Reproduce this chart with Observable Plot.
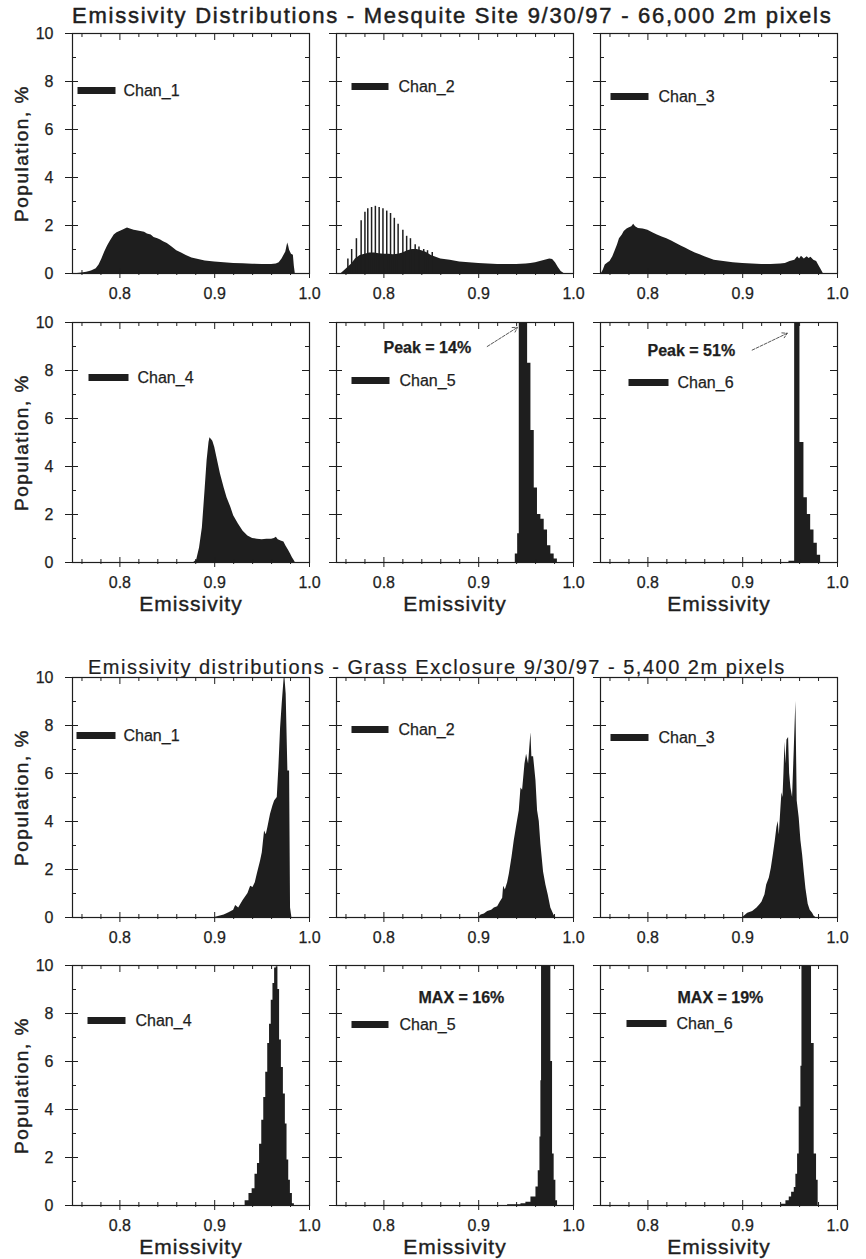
<!DOCTYPE html>
<html>
<head>
<meta charset="utf-8">
<script src="https://cdn.jsdelivr.net/npm/d3@7"></script>
<script src="https://cdn.jsdelivr.net/npm/@observablehq/plot@0.6"></script>
<style>
html, body { margin: 0; padding: 0; background: #fff; overflow: hidden; }
#page { position: relative; width: 866px; height: 1259px; font-family: "Liberation Sans", Arial, Helvetica, sans-serif; color: #1e1e1e; }
.title { position: absolute; white-space: nowrap; line-height: 1; color: #1e1e1e; }
.panel { position: absolute; }
.panel text { stroke: #1e1e1e; stroke-width: 0.25px; }
</style>
</head>
<body>
<div id="page"></div>
<script>
// ---------- tick values & labels ----------
const xMajor = [0.8, 0.9, 1.0];
const xMinor = [0.76, 0.78, 0.82, 0.84, 0.86, 0.88, 0.92, 0.94, 0.96, 0.98];
const yMajor = [0, 2, 4, 6, 8, 10];
const yMinor = [1, 3, 5, 7, 9];
const titles = [
  "Emissivity Distributions - Mesquite Site 9/30/97 - 66,000 2m pixels",
  "Emissivity distributions - Grass Exclosure 9/30/97 - 5,400 2m pixels"
];
const channels = ["Chan_1", "Chan_2", "Chan_3", "Chan_4", "Chan_5", "Chan_6"];
const xLabel = "Emissivity";
const yLabel = "Population, %";
const peakNotes = ["Peak = 14%", "Peak = 51%"];
const maxNotes = ["MAX = 16%", "MAX = 19%"];

// ---------- Mesquite site ----------
const mes1X = [0.755,0.76,0.765,0.77,0.775,0.778,0.781,0.784,0.787,0.79,0.794,0.797,0.80,0.804,0.808,0.811,0.815,0.818,0.822,0.826,0.829,0.833,0.836,0.84,0.843,0.846,0.85,0.855,0.86,0.865,0.87,0.876,0.883,0.89,0.90,0.91,0.92,0.93,0.94,0.95,0.96,0.965,0.968,0.971,0.973,0.975,0.977,0.978,0.979,0.981,0.983,0.984,0.985];
const mes1Y = [0,0.02,0.05,0.1,0.2,0.35,0.6,0.9,1.15,1.35,1.6,1.7,1.75,1.82,1.9,1.85,1.8,1.78,1.75,1.72,1.65,1.6,1.5,1.45,1.4,1.32,1.25,1.1,0.95,0.85,0.75,0.65,0.58,0.52,0.48,0.45,0.42,0.41,0.39,0.38,0.38,0.4,0.45,0.6,0.75,0.9,1.27,1.15,0.97,0.8,0.76,0.3,0];

const mes2X = [0.755,0.758,0.762,0.766,0.77,0.775,0.78,0.785,0.79,0.795,0.80,0.805,0.81,0.815,0.82,0.825,0.83,0.835,0.84,0.845,0.85,0.855,0.86,0.87,0.88,0.89,0.90,0.91,0.92,0.93,0.94,0.95,0.955,0.96,0.965,0.97,0.975,0.978,0.981,0.984,0.987,0.99];
const mes2Y = [0,0.1,0.25,0.4,0.6,0.75,0.8,0.85,0.85,0.82,0.8,0.8,0.78,0.8,0.85,0.95,1.0,1.0,0.95,0.88,0.75,0.68,0.6,0.55,0.48,0.45,0.42,0.4,0.38,0.37,0.38,0.4,0.42,0.45,0.5,0.55,0.6,0.58,0.45,0.25,0.08,0];
const mes2SpikeX = [0.762,0.766,0.771,0.776,0.780,0.783,0.787,0.791,0.795,0.799,0.803,0.807,0.811,0.815,0.820,0.824,0.828,0.833,0.837,0.842,0.846,0.851];
const mes2SpikeY = [0.6,1.0,1.45,2.2,2.55,2.7,2.75,2.8,2.75,2.7,2.6,2.5,2.3,2.05,1.8,1.55,1.45,1.2,1.1,1.0,0.95,0.88];

const mes3X = [0.751,0.753,0.755,0.758,0.76,0.763,0.765,0.768,0.77,0.773,0.775,0.778,0.78,0.783,0.785,0.787,0.79,0.795,0.80,0.805,0.81,0.815,0.82,0.825,0.83,0.835,0.84,0.845,0.85,0.855,0.86,0.865,0.87,0.88,0.89,0.90,0.91,0.92,0.93,0.94,0.945,0.95,0.955,0.958,0.96,0.962,0.965,0.968,0.97,0.972,0.975,0.978,0.98,0.983,0.985];
const mes3Y = [0,0.15,0.35,0.45,0.5,0.7,0.9,1.2,1.45,1.6,1.75,1.85,1.9,1.95,2.05,1.95,1.88,1.85,1.8,1.7,1.6,1.52,1.45,1.35,1.25,1.15,1.05,0.95,0.85,0.78,0.7,0.62,0.55,0.5,0.45,0.42,0.4,0.38,0.38,0.4,0.42,0.5,0.55,0.7,0.6,0.72,0.6,0.7,0.62,0.68,0.55,0.5,0.35,0.15,0];

const mes4X = [0.878,0.881,0.884,0.887,0.89,0.892,0.894,0.895,0.897,0.898,0.90,0.903,0.906,0.91,0.913,0.917,0.92,0.925,0.93,0.935,0.94,0.945,0.95,0.955,0.96,0.963,0.965,0.967,0.97,0.973,0.975,0.978,0.98,0.982,0.984,0.985];
const mes4Y = [0,0.1,0.6,1.45,3.1,4.25,5.0,5.2,5.1,5.05,4.8,4.25,3.7,3.1,2.7,2.3,1.95,1.6,1.3,1.1,1.0,0.97,0.95,0.97,0.97,1.0,1.05,0.95,0.9,0.85,0.7,0.5,0.35,0.2,0.07,0];

// histogram bin edges (n+1) and heights (n)
const mes5Edges = [0.9386,0.9411,0.9428,0.9516,0.9551,0.9586,0.962,0.9656,0.9691,0.9726,0.9761,0.9796,0.983];
const mes5Vals = [0.35,1.2,14,8.3,5.5,3.1,2.0,1.8,1.35,0.7,0.35,0.15];

const mes6Edges = [0.9488,0.9548,0.9604,0.9646,0.9682,0.9717,0.9752,0.9787,0.9822];
const mes6Vals = [0.05,51,5.0,2.7,2.0,1.35,0.8,0.3];

// ---------- Grass exclosure ----------
const gr1X = [0.90,0.905,0.91,0.9151,0.92,0.9221,0.9253,0.9298,0.9351,0.9379,0.9404,0.9428,0.9449,0.9484,0.9502,0.9526,0.9544,0.9561,0.9589,0.9614,0.9632,0.966,0.9677,0.9695,0.9712,0.9737,0.9754,0.9772,0.979,0.98,0.9814];
const gr1Y = [0,0.05,0.1,0.2,0.3,0.5,0.4,0.7,1.0,1.3,1.25,1.45,1.8,2.35,2.7,3.6,3.45,3.75,4.3,4.65,4.85,5.0,6.25,7.9,8.9,10.2,9.3,6.1,6.1,0.4,0];

const gr2X = [0.9,0.9025,0.906,0.9095,0.9137,0.9165,0.92,0.9228,0.9253,0.9263,0.9281,0.9305,0.9323,0.9351,0.9375,0.9404,0.9428,0.9446,0.9463,0.9488,0.9505,0.9526,0.9551,0.9561,0.9579,0.9604,0.9621,0.9639,0.9656,0.9684,0.9709,0.9733,0.9761,0.9796,0.9814];
const gr2Y = [0,0.1,0.15,0.25,0.3,0.4,0.45,0.65,0.8,1.3,1.15,1.45,1.8,2.5,3.2,3.9,4.45,5.4,5.3,6.4,6.8,6.4,7.7,6.7,6.7,5.7,4.45,4.0,3.05,1.9,1.35,0.95,0.4,0.08,0];

const gr3X = [0.9,0.9053,0.9105,0.9151,0.9186,0.9204,0.9235,0.9253,0.9281,0.9302,0.9323,0.9344,0.9361,0.9375,0.9386,0.9404,0.9414,0.9425,0.9435,0.9446,0.9456,0.9467,0.9484,0.9495,0.9509,0.9526,0.9544,0.9561,0.9575,0.9596,0.9614,0.9632,0.9649,0.9667,0.9691,0.9712,0.9737,0.9754,0.9772];
const gr3Y = [0,0.18,0.25,0.4,0.55,0.65,0.95,1.35,1.65,2.05,2.6,3.2,3.75,4.0,3.45,4.6,5.2,5.0,6.0,7.3,6.4,7.4,7.5,6.0,5.4,5.0,7.0,9.0,4.85,4.15,3.2,2.6,1.9,1.2,0.55,0.3,0.18,0.05,0];

const gr4X = [0.9298,0.9344,0.9379,0.9411,0.9439,0.9463,0.9484,0.9509,0.9526,0.9551,0.9568,0.9589,0.9604,0.9625,0.9639,0.966,0.9674,0.9695,0.9712,0.9737,0.9754,0.9772,0.979,0.9807,0.9832,0.9849];
const gr4Y = [0,0.2,0.5,0.7,1.3,1.75,2.55,3.55,4.5,5.55,6.75,7.55,8.55,9.25,9.9,9.95,9.0,6.9,5.75,4.65,3.4,1.9,1.05,0.5,0.07,0];

const gr5Edges = [0.9305,0.9446,0.9498,0.9551,0.9604,0.9628,0.9646,0.9656,0.9663,0.9761,0.9779,0.9796,0.9814,0.9832];
const gr5Vals = [0.03,0.07,0.14,0.35,0.77,1.45,2.85,5.2,16,6.0,2.15,1.05,0.2];

const gr6Edges = [0.9404,0.9456,0.9491,0.9516,0.9544,0.9561,0.9579,0.9596,0.9614,0.9625,0.9726,0.9754,0.9779,0.9796];
const gr6Vals = [0.05,0.2,0.35,0.55,0.75,1.3,2.15,4.1,5.8,19,6.75,2.15,1.05];

// ---------- layout / style ----------
const ink = "#1e1e1e";
const FONT = '"Liberation Sans", Arial, Helvetica, sans-serif';
const Wf = 237, Hf = 240;
const mL = 72, mR = 22, mT = 10, mB = 52;
const colX = [72, 336, 600];
const rowY = [33, 322, 677, 965];
const ident = d => d;

function toPoints(xs, ys) {
  if (xs.length === ys.length + 1) return xs.map((x, i) => ({x, y: i < ys.length ? ys[i] : 0}));
  return xs.map((x, i) => ({x, y: ys[i]}));
}
const zip = (xs, ys) => xs.map((x, i) => ({x, y: ys[i]}));

// legend: [swatch left, swatch right, centre y, text left], px from the frame's top-left corner
const panels = [
  {row: 0, col: 0, chan: 0, xs: mes1X, ys: mes1Y, curve: "linear", legend: [5, 43, 57, 51]},
  {row: 0, col: 1, chan: 1, xs: mes2X, ys: mes2Y, curve: "linear", spikes: zip(mes2SpikeX, mes2SpikeY), legend: [15, 52, 53, 62]},
  {row: 0, col: 2, chan: 2, xs: mes3X, ys: mes3Y, curve: "linear", legend: [10, 48, 63, 58]},
  {row: 1, col: 0, chan: 3, xs: mes4X, ys: mes4Y, curve: "linear", legend: [16, 56, 55, 65], bottom: true},
  {row: 1, col: 1, chan: 4, xs: mes5Edges, ys: mes5Vals, curve: "step-after", legend: [15, 53, 58, 63], bottom: true,
   note: {text: peakNotes[0], dx: 47, dy: 25}, arrow: {x1: 0.909, y1: 9.0, x2: 0.941, y2: 9.8}},
  {row: 1, col: 2, chan: 5, xs: mes6Edges, ys: mes6Vals, curve: "step-after", legend: [28, 68, 60, 77], bottom: true,
   note: {text: peakNotes[1], dx: 47, dy: 28}, arrow: {x1: 0.910, y1: 8.85, x2: 0.947, y2: 9.55}},
  {row: 2, col: 0, chan: 0, xs: gr1X, ys: gr1Y, curve: "linear", legend: [4, 43, 58, 51]},
  {row: 2, col: 1, chan: 1, xs: gr2X, ys: gr2Y, curve: "linear", legend: [15, 52, 52, 62]},
  {row: 2, col: 2, chan: 2, xs: gr3X, ys: gr3Y, curve: "linear", legend: [10, 48, 60, 58]},
  {row: 3, col: 0, chan: 3, xs: gr4X, ys: gr4Y, curve: "step", legend: [15, 53, 55, 63], bottom: true},
  {row: 3, col: 1, chan: 4, xs: gr5Edges, ys: gr5Vals, curve: "step-after", legend: [15, 52, 59, 63], bottom: true,
   note: {text: maxNotes[0], dx: 82, dy: 32}},
  {row: 3, col: 2, chan: 5, xs: gr6Edges, ys: gr6Vals, curve: "step-after", legend: [26, 66, 58, 76], bottom: true,
   note: {text: maxNotes[1], dx: 77, dy: 32}}
];

const page = document.getElementById("page");

[[titles[0], 72, 5.0, 22, 1.75, "0.5px"], [titles[1], 88, 657, 20, 1.5, "0.2px"]].forEach(([t, l, tp, fs, ls, sw]) => {
  const d = document.createElement("div");
  d.className = "title";
  d.textContent = t;
  Object.assign(d.style, {left: l + "px", top: tp + "px", fontSize: fs + "px", letterSpacing: ls + "px"});
  d.style.webkitTextStroke = sw + " #1e1e1e";
  page.appendChild(d);
});

panels.forEach(p => {
  const marks = [
    Plot.areaY(toPoints(p.xs, p.ys), {x: "x", y: "y", curve: p.curve, fill: ink, clip: true})
  ];
  if (p.spikes) marks.push(Plot.ruleX(p.spikes, {x: "x", y1: 0, y2: "y", stroke: ink, strokeWidth: 1.5, clip: true}));
  marks.push(
    Plot.frame({stroke: ink, strokeWidth: 1.2}),
    Plot.tickY(yMajor, {y: ident, insetLeft: -7, insetRight: Wf - 6, stroke: ink}),
    Plot.tickY(yMinor, {y: ident, insetRight: Wf - 4, stroke: ink}),
    Plot.tickY(yMajor, {y: ident, insetLeft: Wf - 7, insetRight: -1, stroke: ink}),
    Plot.tickY(yMinor, {y: ident, insetLeft: Wf - 4, stroke: ink}),
    Plot.tickX(xMajor, {x: ident, insetTop: Hf - 5, insetBottom: -5, stroke: ink}),
    Plot.tickX(xMinor, {x: ident, insetTop: Hf - 3, insetBottom: -2, stroke: ink}),
    Plot.tickX(xMajor, {x: ident, insetBottom: Hf - 7, stroke: ink}),
    Plot.tickX(xMinor, {x: ident, insetBottom: Hf - 4, stroke: ink})
  );
  const [s0, s1, cy, tx] = p.legend;
  marks.push(
    Plot.frame({fill: ink, stroke: "none", insetLeft: s0, insetRight: Wf - s1, insetTop: cy - 3.5, insetBottom: Hf - cy - 3.5}),
    Plot.text([channels[p.chan]], {text: ident, frameAnchor: "top-left", dx: tx, dy: cy, textAnchor: "start", lineAnchor: "middle", fontSize: 16, fill: ink})
  );
  if (p.note) {
    marks.push(Plot.text([p.note.text], {text: ident, frameAnchor: "top-left", dx: p.note.dx, dy: p.note.dy, textAnchor: "start", lineAnchor: "middle", fontSize: 16, fontWeight: "bold", fill: ink}));
  }
  if (p.arrow) {
    marks.push(Plot.arrow([p.arrow], {x1: "x1", y1: "y1", x2: "x2", y2: "y2", stroke: "#444", strokeWidth: 0.9, headLength: 9, strokeDasharray: "3,1.5"}));
  }
  if (p.col === 0) {
    marks.push(Plot.text([yLabel], {text: ident, frameAnchor: "left", dx: -51, rotate: -90, textAnchor: "middle", fontSize: 19, fill: ink}));
  }
  if (p.bottom) {
    marks.push(Plot.text([xLabel], {text: ident, frameAnchor: "bottom", dy: 42, textAnchor: "middle", lineAnchor: "middle", fontSize: 21, fill: ink}));
  }

  const svg = Plot.plot({
    width: mL + Wf + mR,
    height: mT + Hf + mB,
    marginLeft: mL, marginRight: mR, marginTop: mT, marginBottom: mB,
    style: {background: "transparent", fontFamily: FONT, fontSize: "16px", color: ink, overflow: "visible"},
    x: {domain: [0.75, 1.0], ticks: xMajor, tickSize: 0, tickPadding: 14, tickFormat: d3.format(".1f"), label: null, axis: "bottom"},
    y: {domain: [0, 10], ticks: yMajor, tickSize: 0, tickPadding: 19, label: null, axis: p.col === 0 ? "left" : null},
    marks
  });
  d3.select(svg).selectAll("text").each(function () {
    const t = this.textContent;
    if (t === yLabel) { this.style.letterSpacing = "1.5px"; this.style.strokeWidth = "0.45px"; }
    if (t === xLabel) { this.style.letterSpacing = "1px"; this.style.strokeWidth = "0.4px"; }
  });
  const holder = document.createElement("div");
  holder.className = "panel";
  holder.style.left = (colX[p.col] - mL) + "px";
  holder.style.top = (rowY[p.row] - mT) + "px";
  holder.appendChild(svg);
  page.appendChild(holder);
});
</script>
</body>
</html>
